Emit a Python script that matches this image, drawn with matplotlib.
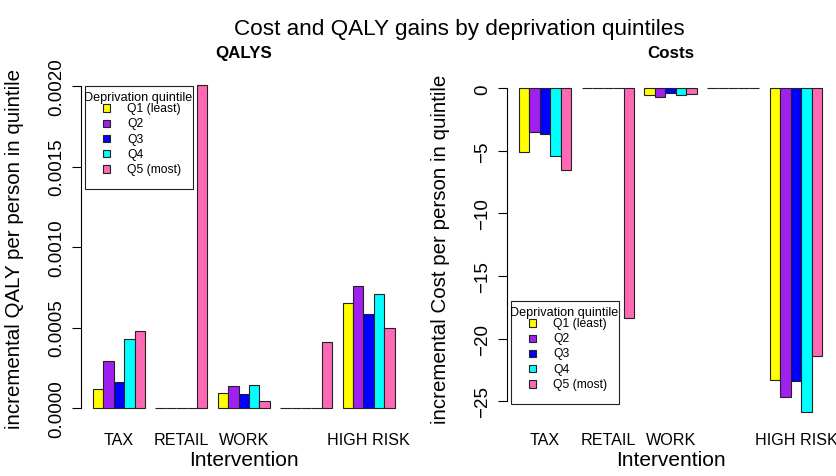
import numpy as np
import matplotlib
matplotlib.use("Agg")
import matplotlib.pyplot as plt
from matplotlib.patches import Rectangle

plt.rcParams['font.family'] = ['Liberation Sans', 'DejaVu Sans']

# %% data
interventions = ["TAX", "RETAIL", "WORK", "", "HIGH RISK"]
quintiles = ["Q1 (least)", "Q2", "Q3", "Q4", "Q5 (most)"]
colours = ["#FFFF00", "#A020F0", "#0000FF", "#00FFFF", "#FF69B4"]

# incremental QALY per person, one list per quintile (across interventions)
qaly_q1 = [0.000120, 0.0, 0.000095, 0.0, 0.000655]
qaly_q2 = [0.000293, 0.0, 0.000136, 0.0, 0.000758]
qaly_q3 = [0.000161, 0.0, 0.000085, 0.0, 0.000581]
qaly_q4 = [0.000426, 0.0, 0.000140, 0.0, 0.000707]
qaly_q5 = [0.000479, 0.002005, 0.000045, 0.000407, 0.000498]

# incremental cost per person
cost_q1 = [-5.12, 0.0, -0.50, 0.0, -23.35]
cost_q2 = [-3.50, 0.0, -0.67, 0.0, -24.65]
cost_q3 = [-3.63, 0.0, -0.40, 0.0, -23.40]
cost_q4 = [-5.44, 0.0, -0.53, 0.0, -25.85]
cost_q5 = [-6.54, -18.38, -0.45, 0.03, -21.37]

qaly = np.array([qaly_q1, qaly_q2, qaly_q3, qaly_q4, qaly_q5])
cost = np.array([cost_q1, cost_q2, cost_q3, cost_q4, cost_q5])

W, H = 836, 477
fig = plt.figure(figsize=(W / 100, H / 100), dpi=100)


def px(x, y):
    return x / W, 1 - y / H


def barplot(ax, vals, ylim, yticks, ylabel, title, fmt):
    ng = vals.shape[1]
    for j in range(vals.shape[0]):
        left = 1 + 6 * np.arange(ng) + j
        ax.bar(left, vals[j], width=1, align='edge', color=colours[j],
               edgecolor='#222222', linewidth=0.8)
    ax.set_xlim(-0.16, 31.16)
    ax.set_ylim(*ylim)
    for s in ['top', 'right', 'bottom']:
        ax.spines[s].set_visible(False)
    ax.spines['left'].set_bounds(yticks[0], yticks[-1])
    ax.spines['left'].set_linewidth(0.8)
    ax.set_yticks(yticks, [fmt(v) for v in yticks])
    ax.tick_params(axis='y', length=6.5, width=0.8, pad=5, labelsize=13.5,
                   labelrotation=90)
    for lab in ax.get_yticklabels():
        lab.set_va('center')
    centres = 1 + 6 * np.arange(ng) + 2.5
    ax.set_xticks(centres, interventions)
    ax.tick_params(axis='x', length=0, pad=6.5, labelsize=11.6)
    ax.set_ylabel(ylabel, fontsize=14.8)
    ax.yaxis.set_label_coords(-0.175, 0.5)
    ax.set_title(title, fontsize=12.2, fontweight='bold', pad=12)
    ax.text(0.5, -0.105, "Intervention", transform=ax.transAxes,
            ha='center', va='center', fontsize=15)


def legend(x0, y0):
    # box at pixel (x0, y0) top-left, R style
    fig.patches.append(Rectangle(px(x0, y0 + 103), 108 / W, 103 / H,
                                 transform=fig.transFigure, fill=False,
                                 edgecolor='#222222', linewidth=0.8))
    fig.text(*px(x0 - 1, y0 + 11.3), "Deprivation quintile", fontsize=9.1,
             ha='left', va='center')
    for i, (lab, col) in enumerate(zip(quintiles, colours)):
        yc = y0 + 22 + 15.25 * i
        fig.patches.append(Rectangle(px(x0 + 18, yc + 3.6), 7.3 / W, 7.2 / H,
                                     transform=fig.transFigure, facecolor=col,
                                     edgecolor='#222222', linewidth=0.8))
        fig.text(*px(x0 + 42, yc), lab, fontsize=8.7, ha='left', va='center')


ax1 = fig.add_axes([81 / W, 1 - 423.5 / H, 325.7 / W, 349 / H])
barplot(ax1, qaly, (-0.00009, 0.002078), [0, 0.0005, 0.001, 0.0015, 0.002],
        "incremental QALY per person in quintile", "QALYS",
        lambda v: f"{v:.4f}")

ax2 = fig.add_axes([506.9 / W, 1 - 423.5 / H, 327.3 / W, 349 / H])
barplot(ax2, cost, (-26.71, 1.18), [-25, -20, -15, -10, -5, 0],
        "incremental Cost per person in quintile", "Costs",
        lambda v: f"{v:.0f}".replace("-", "\u2212"))

legend(85, 87)
legend(511, 302)

fig.text(459 / W, 1 - 35.5 / H, "Cost and QALY gains by deprivation quintiles",
         ha='center', va='baseline', fontsize=16.2)

fig.savefig("out.png", dpi=100)
